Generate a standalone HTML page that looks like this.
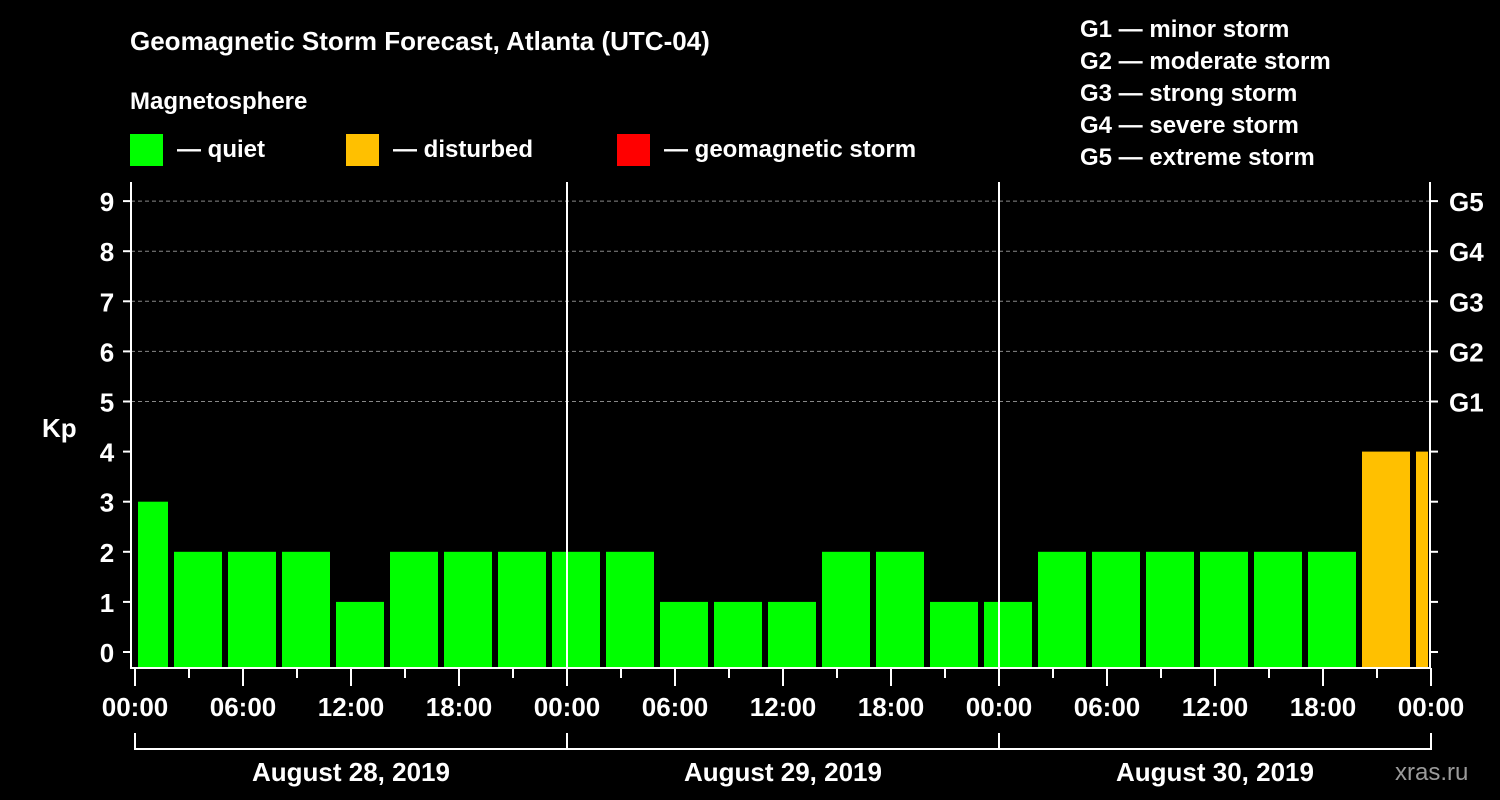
<!DOCTYPE html>
<html><head><meta charset="utf-8"><style>
html,body{margin:0;padding:0;background:#000;width:1500px;height:800px;overflow:hidden}
svg text{font-family:"Liberation Sans",Arial,sans-serif;font-weight:bold;fill:#fff}
</style></head><body>
<svg id="c" width="1500" height="800" xmlns="http://www.w3.org/2000/svg">
<text x="130" y="50" font-size="26">Geomagnetic Storm Forecast, Atlanta (UTC-04)</text>
<text x="130" y="109" font-size="24">Magnetosphere</text>
<g><rect x="130" y="134" width="33" height="32" fill="#00ff00"/><text x="177" y="157" font-size="24">— quiet</text></g>
<g><rect x="346" y="134" width="33" height="32" fill="#ffc000"/><text x="393" y="157" font-size="24">— disturbed</text></g>
<g><rect x="617" y="134" width="33" height="32" fill="#ff0000"/><text x="664" y="157" font-size="24">— geomagnetic storm</text></g>
<g font-size="24">
<text x="1080" y="37">G1 — minor storm</text><text x="1080" y="69">G2 — moderate storm</text><text x="1080" y="101">G3 — strong storm</text><text x="1080" y="133">G4 — severe storm</text><text x="1080" y="165">G5 — extreme storm</text></g>
<text x="42" y="437" font-size="26">Kp</text>
<text x="1395" y="780" font-size="24" fill="#888" style="fill:#9a9a9a;font-weight:normal">xras.ru</text>
<g id="grid"></g><g id="bars"></g><g id="axes"></g>
</svg>
<script>
const values=[3,2,2,2,1,2,2,2,2,2,1,1,1,2,2,1,1,2,2,2,2,2,2,4,4];
const startHours=[0,2,5,8,11,14,17,20,23,26,29,32,35,38,41,44,47,50,53,56,59,62,65,68,71];
const endHours=[2,5,8,11,14,17,20,23,26,29,32,35,38,41,44,47,50,53,56,59,62,65,68,71,72];
const yTicks=[0,1,2,3,4,5,6,7,8,9];
const gLabels=["G1","G2","G3","G4","G5"];
const gLevels=[5,6,7,8,9];
const xTickLabels=["00:00","06:00","12:00","18:00","00:00","06:00","12:00","18:00","00:00","06:00","12:00","18:00","00:00"];
const dayLabels=["August 28, 2019","August 29, 2019","August 30, 2019"];
const NS="http://www.w3.org/2000/svg";
const X0=135,PX=18,Y0=652,PY=50.1,TOP=182,BOT=668,L=131,R=1430;
const x=h=>X0+h*PX, y=v=>Y0-v*PY;
function mk(t,a,p){const e=document.createElementNS(NS,t);for(const k in a)e.setAttribute(k,a[k]);p.appendChild(e);return e;}
const grid=document.getElementById('grid'),bars=document.getElementById('bars'),axes=document.getElementById('axes');
gLevels.forEach((v,i)=>{
 const l=mk('line',{x1:L,x2:R,y1:y(v),y2:y(v),stroke:'#888','stroke-dasharray':'4,3','stroke-width':1},grid);
 
 
 const t=mk('text',{x:1449,y:y(v)+10,'font-size':26},axes);t.textContent=gLabels[i];
 
 
});
values.forEach((v,i)=>{
 const a=Math.max(x(startHours[i])+3,L+5),b=x(endHours[i])-3;
 const r=mk('rect',{x:a,y:y(v),width:b-a,height:BOT-y(v),fill:v>=5?'#ff0000':(v>=4?'#ffc000':'#00ff00')},bars);
 
 
});
[1,2].forEach(d=>{const l=mk('line',{x1:x(d*24),x2:x(d*24),y1:TOP,y2:BOT,stroke:'#fff','stroke-width':2},axes);
 
 });
const fr=mk('path',{d:`M${L} ${TOP}V${BOT}H${R}V${TOP}`,stroke:'#fff','stroke-width':2,fill:'none'},axes);


yTicks.forEach(v=>{
 mk('line',{x1:L-8,x2:L,y1:y(v),y2:y(v),stroke:'#fff','stroke-width':2},axes);
 mk('line',{x1:R,x2:R+8,y1:y(v),y2:y(v),stroke:'#fff','stroke-width':2},axes);
 const t=mk('text',{x:107,y:y(v)+10,'font-size':26,'text-anchor':'middle'},axes);t.textContent=v;
 
 
});
for(let h=0;h<=72;h+=3){mk('line',{x1:x(h),x2:x(h),y1:BOT,y2:h%6?678:686,stroke:'#fff','stroke-width':2},axes);}
xTickLabels.forEach((s,i)=>{const t=mk('text',{x:x(i*6),y:716,'font-size':26,'text-anchor':'middle'},axes);t.textContent=s;
 
 });
mk('path',{d:`M${x(0)} 733V749H${x(72)}V733`,stroke:'#fff','stroke-width':2,fill:'none'},axes);
[1,2].forEach(d=>mk('line',{x1:x(d*24),x2:x(d*24),y1:733,y2:749,stroke:'#fff','stroke-width':2},axes));
dayLabels.forEach((s,i)=>{const t=mk('text',{x:x(i*24+12),y:781,'font-size':26,'text-anchor':'middle'},axes);t.textContent=s;
 
 });
</script>
</body></html>
